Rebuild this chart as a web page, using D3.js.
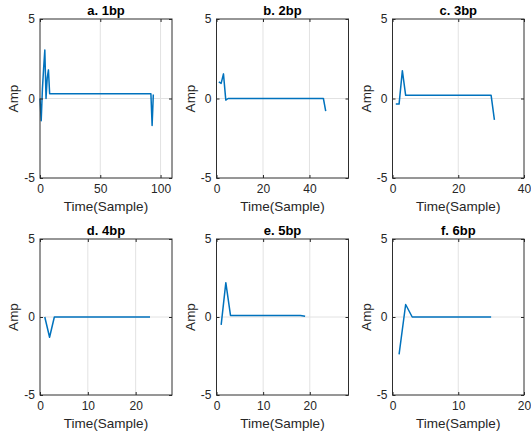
<!DOCTYPE html>
<html>
<head>
<meta charset="utf-8">
<script src="https://cdn.jsdelivr.net/npm/d3@7"></script>
<style>
  html, body { margin: 0; padding: 0; background: #fff; }
  svg { display: block; font-family: "Liberation Sans", Arial, sans-serif; }
</style>
</head>
<body>
<script>
// ---------- data ----------
const titles = ["a. 1bp", "b. 2bp", "c. 3bp", "d. 4bp", "e. 5bp", "f. 6bp"];
const xMaxes = [109.5, 56.8, 40, 27.6, 28.3, 20];
const xTicks = [[0, 50, 100], [0, 20, 40], [0, 20, 40], [0, 10, 20], [0, 10, 20], [0, 10, 20]];
const yTicks = [-5, 0, 5];
const yLabel = "Amp";
const xLabel = "Time(Sample)";

const aX = [0, 1, 2, 3, 4, 5, 6, 7, 8, 92, 93, 94];
const aY = [0, -1.4, 0.6, 1.9, 3.05, 0.0, 1.3, 1.8, 0.3, 0.3, -1.7, 0.25];
const bX = [1, 2, 3, 4, 5, 46, 47];
const bY = [1.05, 0.95, 1.55, -0.1, 0.0, 0.0, -0.8];
const cX = [1, 2, 3, 4, 30, 31];
const cY = [-0.35, -0.35, 1.75, 0.2, 0.2, -1.35];
const dX = [1, 2, 3, 23];
const dY = [0, -1.3, 0, 0];
const eX = [1, 2, 3, 18, 19];
const eY = [-0.5, 2.2, 0.1, 0.1, 0.05];
const fX = [1, 2, 3, 15];
const fY = [-2.4, 0.8, 0, 0];

const seriesX = [aX, bX, cX, dX, eX, fX];
const seriesY = [aY, bY, cY, dY, eY, fY];

// ---------- layout ----------
const W = 531, H = 436;
const colL = [40, 216.5, 392.5], colW = [132, 132, 131.5];
const rowT = [19, 239], rowH = [159, 156];
const textColor = "#262626";
const fmt = d => String(d);

const svg = d3.select("body").append("svg").attr("width", W).attr("height", H);

titles.forEach((title, i) => {
  const c = i % 3, r = Math.floor(i / 3);
  const L = colL[c], w = colW[c], T = rowT[r], h = rowH[r];
  const x = d3.scaleLinear().domain([0, xMaxes[i]]).range([L, L + w]);
  const y = d3.scaleLinear().domain([-5, 5]).range([T + h, T]);
  const g = svg.append("g");

  // grid
  g.selectAll(".gx").data(xTicks[i].filter(v => v > 0 && v < xMaxes[i])).enter()
    .append("line")
    .attr("x1", d => x(d)).attr("x2", d => x(d))
    .attr("y1", T).attr("y2", T + h)
    .attr("stroke", "#e2e2e2").attr("stroke-width", 1);
  g.selectAll(".gy").data(yTicks.filter(v => v > -5 && v < 5)).enter()
    .append("line")
    .attr("x1", L).attr("x2", L + w)
    .attr("y1", d => y(d)).attr("y2", d => y(d))
    .attr("stroke", "#e2e2e2").attr("stroke-width", 1);

  // series
  const pts = seriesX[i].map((v, k) => [v, seriesY[i][k]]);
  g.append("path")
    .datum(pts)
    .attr("d", d3.line().x(d => x(d[0])).y(d => y(d[1])))
    .attr("fill", "none")
    .attr("stroke", "#0072BD")
    .attr("stroke-width", 1.5)
    .attr("stroke-linejoin", "round");

  // axes
  const styleAxis = sel => {
    sel.select(".domain").remove();
    sel.selectAll("line").attr("stroke", textColor);
    sel.selectAll("text").attr("fill", textColor).style("font-size", "12px")
      .style("font-family", "'Liberation Sans', Arial, sans-serif");
  };
  g.append("g").attr("transform", `translate(0,${T + h})`)
    .call(d3.axisBottom(x).tickValues(xTicks[i]).tickSize(-3).tickPadding(6).tickFormat(fmt))
    .call(styleAxis);
  g.append("g").attr("transform", `translate(0,${T})`)
    .call(d3.axisTop(x).tickValues(xTicks[i]).tickSize(-3).tickFormat(""))
    .call(styleAxis);
  g.append("g").attr("transform", `translate(${L},0)`)
    .call(d3.axisLeft(y).tickValues(yTicks).tickSize(-3).tickPadding(5).tickFormat(fmt))
    .call(styleAxis);
  g.append("g").attr("transform", `translate(${L + w},0)`)
    .call(d3.axisRight(y).tickValues(yTicks).tickSize(-3).tickFormat(""))
    .call(styleAxis);

  // box
  g.append("rect")
    .attr("x", L).attr("y", T).attr("width", w).attr("height", h)
    .attr("fill", "none").attr("stroke", "#2e2e2e").attr("stroke-width", 1);

  // labels
  g.append("text")
    .attr("x", L + w / 2).attr("y", T - 4)
    .attr("text-anchor", "middle")
    .attr("fill", "#000")
    .style("font-size", "13px").style("font-weight", "bold")
    .text(title);
  g.append("text")
    .attr("x", L + w / 2).attr("y", T + h + 33)
    .attr("text-anchor", "middle")
    .attr("fill", textColor)
    .style("font-size", "13.5px")
    .text(xLabel);
  g.append("text")
    .attr("transform", `translate(${L - 22},${T + h / 2}) rotate(-90)`)
    .attr("text-anchor", "middle")
    .attr("fill", textColor)
    .style("font-size", "13.5px")
    .text(yLabel);
});
</script>
</body>
</html>
